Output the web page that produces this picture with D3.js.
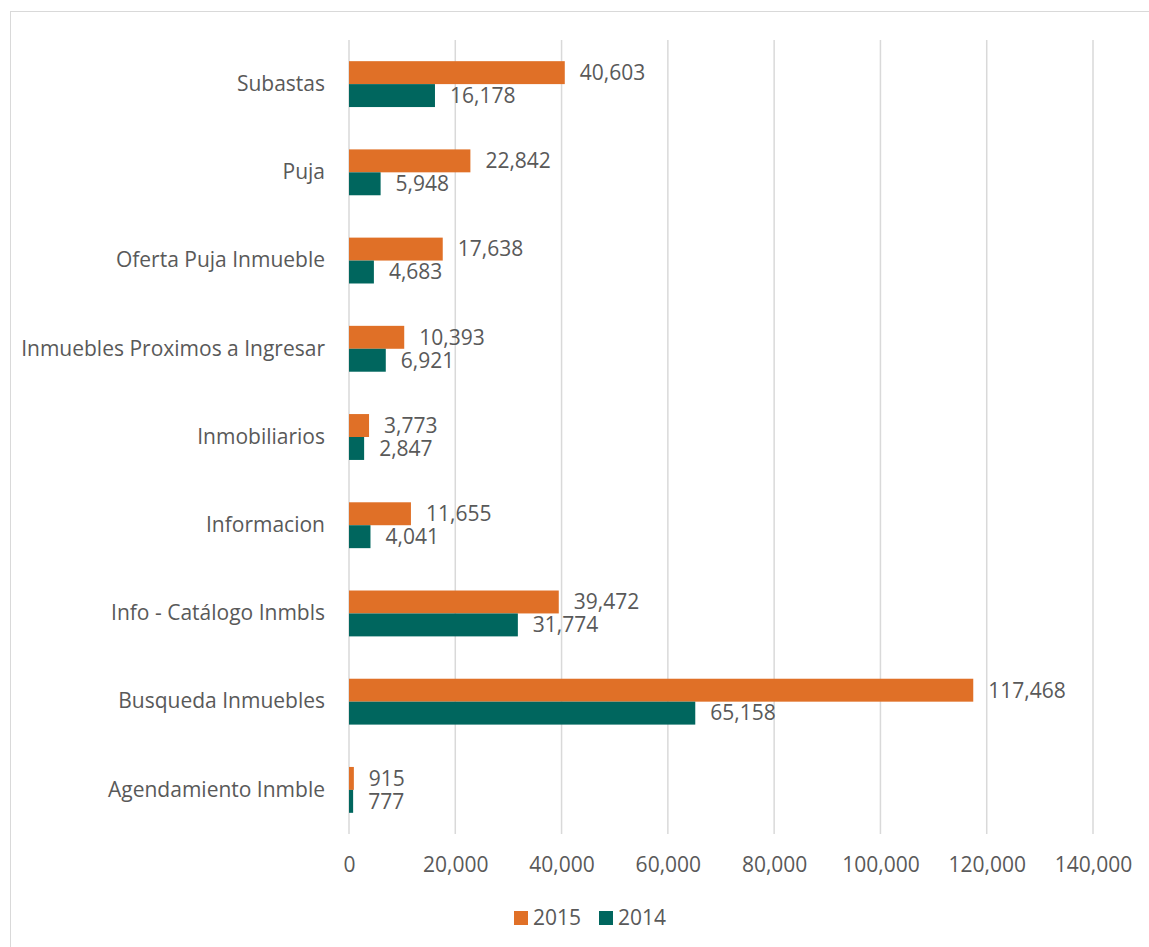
<!DOCTYPE html>
<html>
<head>
<meta charset="utf-8">
<script src="https://cdn.jsdelivr.net/npm/d3@7"></script>
<style>
  body { margin: 0; background: #fff; }
  text { font-family: "Open Sans", sans-serif; fill: #595959; }
</style>
</head>
<body>
<div id="chart"></div>
<script>
// categories top to bottom
const categories = ["Subastas", "Puja", "Oferta Puja Inmueble", "Inmuebles Proximos a Ingresar",
  "Inmobiliarios", "Informacion", "Info - Catálogo Inmbls", "Busqueda Inmuebles", "Agendamiento Inmble"];
const values2015 = [40603, 22842, 17638, 10393, 3773, 11655, 39472, 117468, 915];
const values2014 = [16178, 5948, 4683, 6921, 2847, 4041, 31774, 65158, 777];
const seriesNames = ["2015", "2014"];
const xTicks = [0, 20000, 40000, 60000, 80000, 100000, 120000, 140000];

const colors = { "2015": "#E07027", "2014": "#00665E" };
const fontSize = '21px';

const W = 1149, H = 947;
const svg = d3.select('#chart').append('svg')
  .attr('width', W).attr('height', H);

// chart frame
svg.append('rect')
  .attr('x', 10.5).attr('y', 11.5)
  .attr('width', W + 10).attr('height', H + 10)
  .attr('fill', 'none').attr('stroke', '#d9d9d9');

const plot = { left: 349, right: 1093, top: 40, bottom: 834 };

const x = d3.scaleLinear().domain([0, 140000]).range([plot.left, plot.right]);
const y = d3.scaleBand().domain(categories).range([plot.top, plot.bottom])
  .paddingInner(0.48).paddingOuter(0.24);
const ySub = d3.scaleBand().domain(seriesNames).range([0, y.bandwidth()]);

// gridlines
svg.append('g').selectAll('line').data(xTicks).join('line')
  .attr('x1', d => x(d)).attr('x2', d => x(d))
  .attr('y1', plot.top).attr('y2', plot.bottom)
  .attr('stroke', '#d9d9d9').attr('stroke-width', 1.5);

// x axis labels
const xAxis = d3.axisBottom(x).tickValues(xTicks).tickFormat(d3.format(',')).tickSize(0);
const ax = svg.append('g').attr('transform', `translate(0, ${plot.bottom})`).call(xAxis);
ax.select('.domain').remove();
ax.selectAll('text').attr('dy', null).attr('y', 38).attr('font-size', fontSize)
  .attr('font-family', '"Open Sans", sans-serif').attr('fill', '#595959');

// category labels
const yAxis = d3.axisLeft(y).tickSize(0).tickPadding(24);
const ay = svg.append('g').attr('transform', `translate(${plot.left}, 0)`).call(yAxis);
ay.select('.domain').remove();
ay.selectAll('text').attr('font-size', fontSize)
  .attr('font-family', '"Open Sans", sans-serif').attr('fill', '#595959');

// bars
const rows = categories.map((c, i) => ({ cat: c, vals: [
  { s: "2015", v: values2015[i] }, { s: "2014", v: values2014[i] }] }));

const groups = svg.append('g').selectAll('g').data(rows).join('g')
  .attr('transform', d => `translate(0, ${y(d.cat)})`);

groups.selectAll('rect').data(d => d.vals).join('rect')
  .attr('x', x(0))
  .attr('y', d => ySub(d.s))
  .attr('width', d => x(d.v) - x(0))
  .attr('height', ySub.bandwidth())
  .attr('fill', d => colors[d.s]);

groups.selectAll('text').data(d => d.vals).join('text')
  .attr('x', d => x(d.v) + 15)
  .attr('y', d => ySub(d.s) + ySub.bandwidth() / 2)
  .attr('dy', '0.35em')
  .attr('font-size', fontSize)
  .text(d => d3.format(',')(d.v));

// legend
const legend = svg.append('g').attr('transform', 'translate(514, 911)');
seriesNames.forEach((s, i) => {
  const item = legend.append('g').attr('transform', `translate(${i * 85}, 0)`);
  item.append('rect').attr('width', 14).attr('height', 14).attr('fill', colors[s]);
  item.append('text').attr('x', 19).attr('y', 7).attr('dy', '0.35em')
    .attr('font-size', fontSize).text(s);
});
</script>
</body>
</html>
